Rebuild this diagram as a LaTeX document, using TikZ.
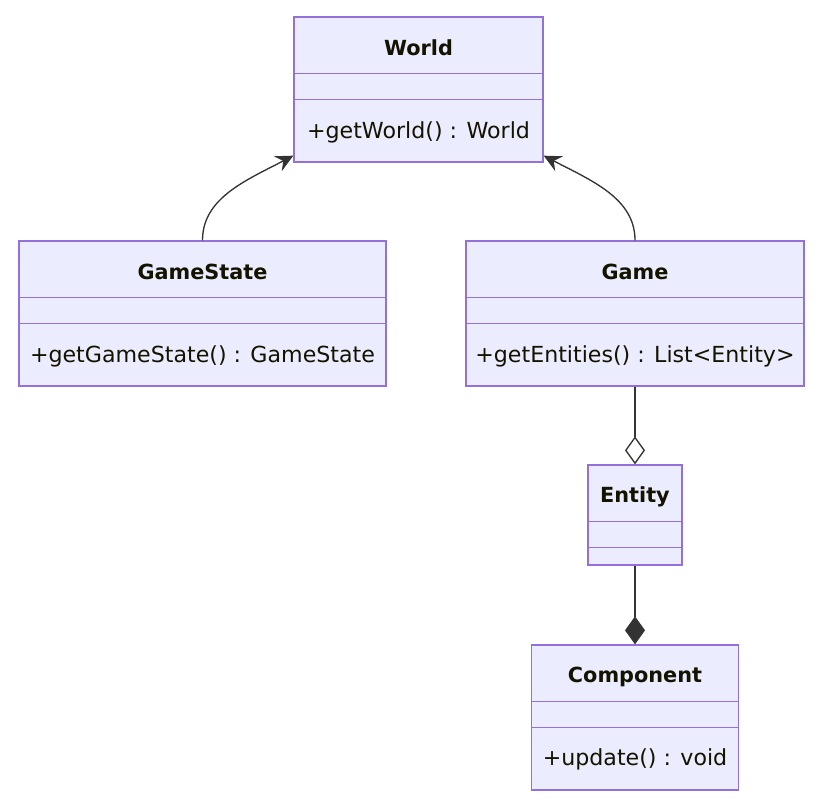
\documentclass[tikz,border=0pt]{standalone}
\usepackage{fontspec}
\setmainfont{DejaVu Sans}
\usetikzlibrary{arrows.meta,calc}
\definecolor{clsfill}{HTML}{ECECFF}
\definecolor{clsborder}{HTML}{9370DB}
\definecolor{txt}{HTML}{131300}
\definecolor{relc}{HTML}{333333}
\begin{document}
\begin{tikzpicture}[x=0.75pt,y=-0.75pt,
  cls/.style={draw=clsborder, fill=clsfill, line width=1pt, inner sep=0pt, rectangle},
  ttl/.style={font=\bfseries\fontsize{15.6}{18}\selectfont, text=txt, inner sep=0pt},
  mth/.style={font=\fontsize{16.6}{20}\selectfont, text=txt, inner sep=0pt},
  divline/.style={draw=clsborder, line width=1pt},
  rel/.style={draw=relc, line width=1pt},
  inh/.style={rel, -{Stealth[length=13pt,width=12.5pt,inset=4.5pt]}},
  agg/.style={rel, -{Diamond[open,length=21pt,width=15pt]}},
  comp/.style={rel, -{Diamond[length=21pt,width=15pt]}}]
\useasboundingbox (0,0) rectangle (824,806);
\fill[white] (0,0) rectangle (824,806);

% class boxes
\node[cls, minimum width=186.75pt, minimum height=108.75pt] (world) at (418.5,89.5) {};
\node[cls, minimum width=275.25pt, minimum height=108.75pt] (gs) at (202.5,313.5) {};
\node[cls, minimum width=253.5pt, minimum height=108.75pt] (game) at (635,313.5) {};
\node[cls, minimum width=70.5pt, minimum height=75pt] (entity) at (635,515) {};
\node[cls, minimum width=155.25pt, minimum height=108.75pt] (comp) at (635,717.5) {};

% dividers
\foreach \n/\a/\b in {world/57/83, gs/57/83, game/57/83, entity/57/83, comp/57/83}{
  \draw[divline] ($(\n.north west)+(0,\a)$) -- ($(\n.north east)+(0,\a)$);
  \draw[divline] ($(\n.north west)+(0,\b)$) -- ($(\n.north east)+(0,\b)$);
}

% texts
\node[ttl] (worldT) at (418.5,48) {World};
\node[mth] (worldM) at (418.5,132) {+getWorld() : World};
\node[ttl] (gsT) at (202.5,272) {GameState};
\node[mth] (gsM) at (202.5,356) {+getGameState() : GameState};
\node[ttl] (gameT) at (635,272) {Game};
\node[mth] (gameM) at (635,356) {+getEntities() : List<Entity>};
\node[ttl] (entityT) at (635,497) {Entity};
\node[ttl] (compT) at (635,677) {Component};
\node[mth] (compM) at (635,759) {+update() : void};

% connectors
\coordinate (wl) at ($(world.south west)+(0,-7)$);
\coordinate (wr) at ($(world.south east)+(0,-7)$);
\draw[inh] (gs.north) .. controls ($(gs.north)+(0,-42)$) and ($(wl)+(-48,25)$) .. (wl);
\draw[inh] (game.north) .. controls ($(game.north)+(0,-42)$) and ($(wr)+(48,25)$) .. (wr);
\draw[agg] (game.south) -- (entity.north);
\draw[comp] (entity.south) -- (comp.north);
\end{tikzpicture}
\end{document}
